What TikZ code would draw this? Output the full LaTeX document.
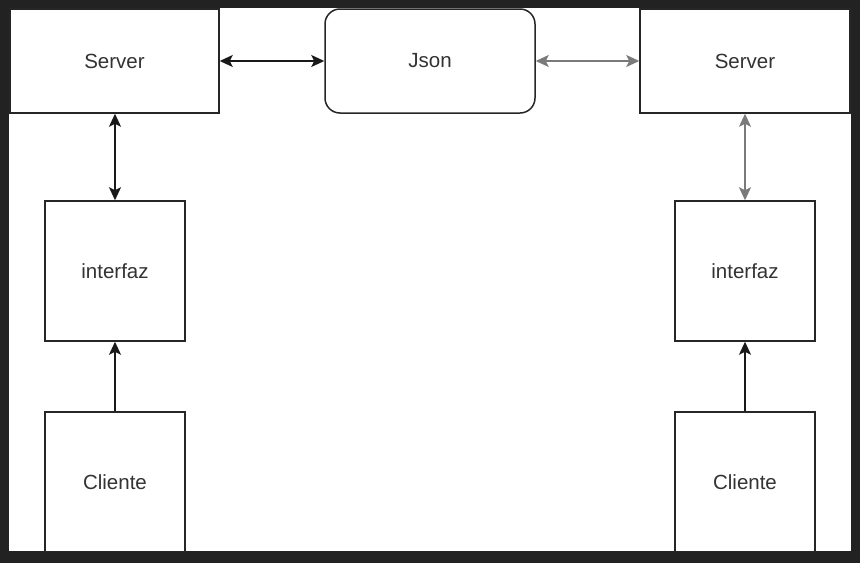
\documentclass[tikz,border=0pt]{standalone}
\usepackage{fontspec}
\setmainfont{Liberation Sans}
\usetikzlibrary{arrows.meta}
\definecolor{frame}{HTML}{222222}
\definecolor{txt}{HTML}{333333}
\definecolor{grayline}{HTML}{7A7A7A}
\tikzset{
  box/.style={draw=black!85, line width=1.5pt, fill=white, inner sep=0pt,
    font=\fontsize{20.5}{24}\selectfont, text=txt},
  wide/.style={box, minimum width=209pt, minimum height=104pt},
  sq/.style={box, minimum width=140pt, minimum height=140pt},
  tip/.tip={Stealth[length=13pt,width=12pt,inset=3pt]},
  conn/.style={line width=1.5pt, draw=black!90, -tip},
  dconn/.style={conn, tip-tip},
}
\begin{document}
\begin{tikzpicture}[x=1pt,y=-1pt]
\useasboundingbox (0,0) rectangle (860,563);
\fill[frame] (0,0) rectangle (860,563);
\fill[white] (9,8) rectangle (851,551);
\begin{scope}
\clip (9,8) rectangle (851,551);
\node[wide] (s1) at (114.5,61) {Server};
\node[wide, rounded corners=15pt, minimum width=210pt] (json) at (430,61) {Json};
\node[wide, minimum width=210pt] (s2) at (745,61) {Server};
\node[sq] (i1) at (115,271) {interfaz};
\node[sq] (c1) at (115,482) {Cliente};
\node[sq] (i2) at (745,271) {interfaz};
\node[sq] (c2) at (745,482) {Cliente};
\end{scope}
\draw[dconn] (s1.east) -- (json.west);
\draw[dconn, draw=grayline] (json.east) -- (s2.west);
\draw[dconn] (s1.south -| i1.north) -- (i1.north);
\draw[dconn, draw=grayline] (s2.south) -- (i2.north);
\draw[conn] (c1.north) -- (i1.south);
\draw[conn] (c2.north) -- (i2.south);
\end{tikzpicture}
\end{document}
